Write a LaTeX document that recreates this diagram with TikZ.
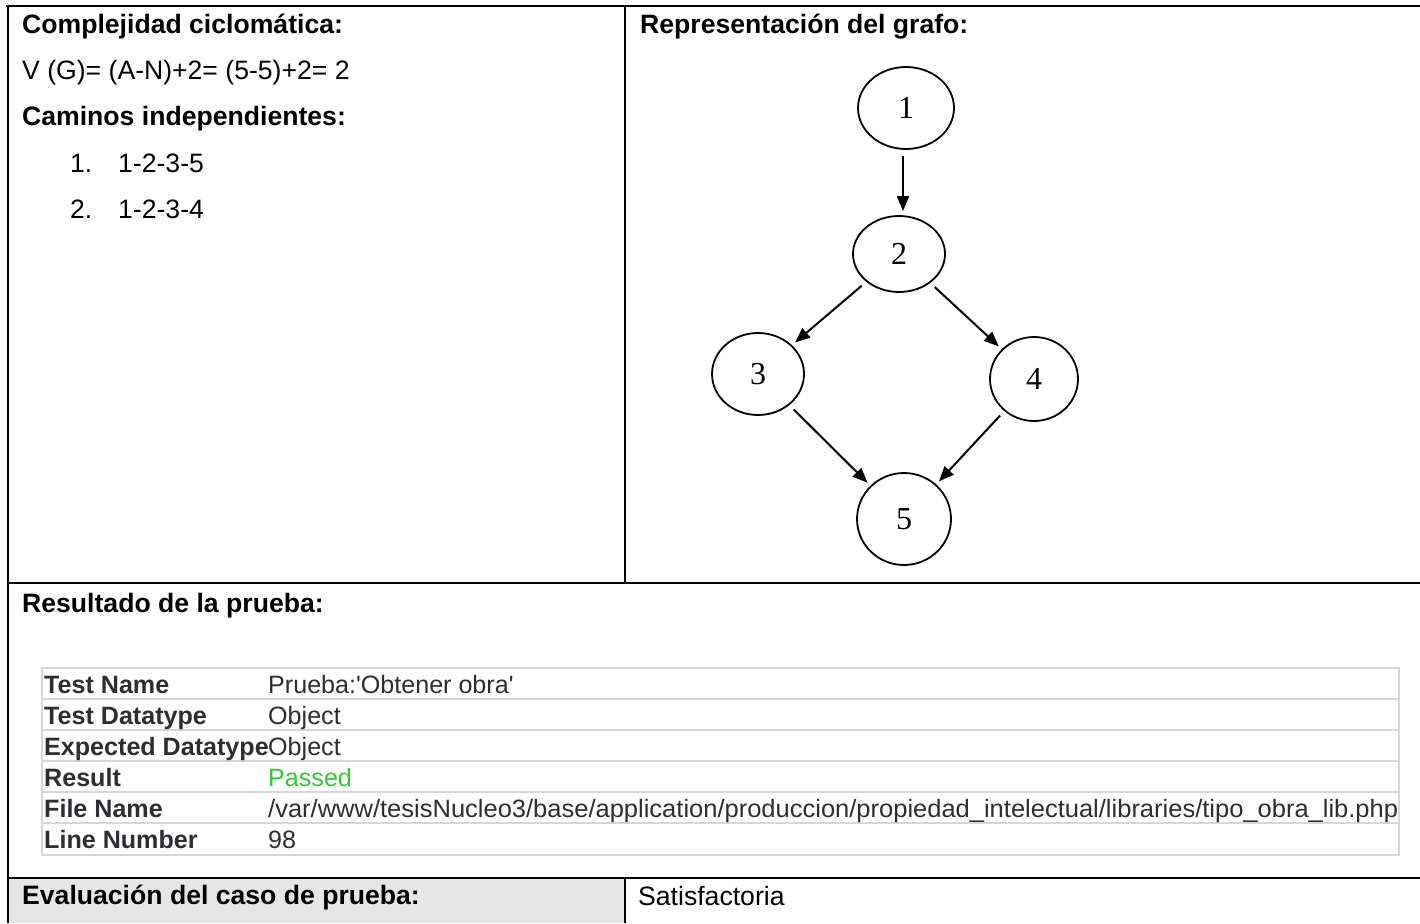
\documentclass[tikz,border=0pt]{standalone}
\usepackage{fontspec}
\setmainfont{Liberation Sans}[Ligatures=TeXOff]
\newfontfamily\serifdig{Liberation Serif}
\usetikzlibrary{shapes.geometric,arrows.meta}
\definecolor{cellgray}{RGB}{230,230,230}
\definecolor{tblline}{RGB}{215,215,215}
\definecolor{tbltext}{RGB}{45,45,50}
\definecolor{passgreen}{RGB}{45,205,45}
\tikzset{
  rule/.style={line width=2.4pt, black},
  wordtxt/.style={anchor=base west, inner sep=0pt, font=\fontsize{26.6}{30}\selectfont},
  wordbold/.style={wordtxt, font=\fontsize{26.6}{30}\selectfont\bfseries},
  tbltxt/.style={anchor=base west, inner sep=0pt, text=tbltext, font=\fontsize{25.1}{28}\selectfont},
  tblbold/.style={tbltxt, font=\fontsize{25.1}{28}\selectfont\bfseries},
  gnode/.style={draw, line width=1.8pt, ellipse, inner sep=0pt, font=\serifdig\fontsize{32}{34}\selectfont},
  arr/.style={line width=2pt, -{Triangle[length=15pt,width=12pt]}, shorten >=4pt, shorten <=6pt}
}
\begin{document}
\begin{tikzpicture}[x=1pt,y=-1pt]
\useasboundingbox (0,0) rectangle (1420,923);
% gray cell
\fill[cellgray] (8,878) rectangle (625,923);
% table rules
\draw[rule] (6,6) -- (1420,6);
\draw[rule] (8,5) -- (8,923);
\draw[rule] (625,6) -- (625,583);
\draw[rule] (7,583) -- (1420,583);
\draw[rule] (7,878) -- (1420,878);
\draw[rule] (625,878) -- (625,923);
% left top cell
\node[wordbold] (t1) at (22,34) {Complejidad ciclomática:};
\node[wordtxt] (t2) at (22,80) {V (G)= (A-N)+2= (5-5)+2= 2};
\node[wordbold] (t3) at (22,125) {Caminos independientes:};
\node[wordtxt] (n1) at (70,172) {1.};
\node[wordtxt] (p1) at (118,172) {1-2-3-5};
\node[wordtxt] (n2) at (70,218) {2.};
\node[wordtxt] (p2) at (118,218) {1-2-3-4};
% right top cell
\node[wordbold] (t4) at (640,34) {Representación del grafo:};
\node[gnode, minimum width=96pt, minimum height=82pt] (g1) at (906,108) {1};
\node[gnode, minimum width=92pt, minimum height=76pt] (g2) at (899,254) {2};
\node[gnode, minimum width=92pt, minimum height=82pt] (g3) at (758,374) {3};
\node[gnode, minimum width=88pt, minimum height=84pt] (g4) at (1034,379) {4};
\node[gnode, minimum width=94pt, minimum height=92pt] (g5) at (904,519) {5};
\draw[arr] ([xshift=-3pt]g1.south) -- ([xshift=-3pt]g1.south |- g2.north);
\draw[arr] (g2) -- (g3);
\draw[arr] (g2) -- (g4);
\draw[arr] (g3) -- (g5);
\draw[arr] (g4) -- (g5);
% result
\node[wordbold] (t5) at (22,612) {Resultado de la prueba:};
% test table
\foreach \yy in {699,730,761,792,823} \draw[tblline, line width=1.8pt] (42,\yy) -- (1399,\yy);
\draw[tblline, line width=1.8pt] (42,668) rectangle (1399,855);
\node[tblbold] (l1) at (44,693) {Test Name};
\node[tbltxt] (v1) at (268,693) {Prueba:'Obtener obra'};
\node[tblbold] (l2) at (44,724) {Test Datatype};
\node[tbltxt] (v2) at (268,724) {Object};
\node[tblbold] (l3) at (44,755) {Expected Datatype};
\node[tbltxt] (v3) at (268,755) {Object};
\node[tblbold] (l4) at (44,786) {Result};
\node[tbltxt, text=passgreen] (v4) at (268,786) {Passed};
\node[tblbold] (l5) at (44,817) {File Name};
\node[tbltxt] (v5) at (268,817) {\resizebox{1130pt}{\height}{/var/www/tesisNucleo3/base/application/produccion/propiedad\_intelectual/libraries/tipo\_obra\_lib.php}};
\node[tblbold] (l6) at (44,848) {Line Number};
\node[tbltxt] (v6) at (268,848) {98};
% evaluation
\node[wordbold] (t6) at (22,904) {Evaluación del caso de prueba:};
\node[wordtxt] (t7) at (638,905) {Satisfactoria};
\end{tikzpicture}
\end{document}
